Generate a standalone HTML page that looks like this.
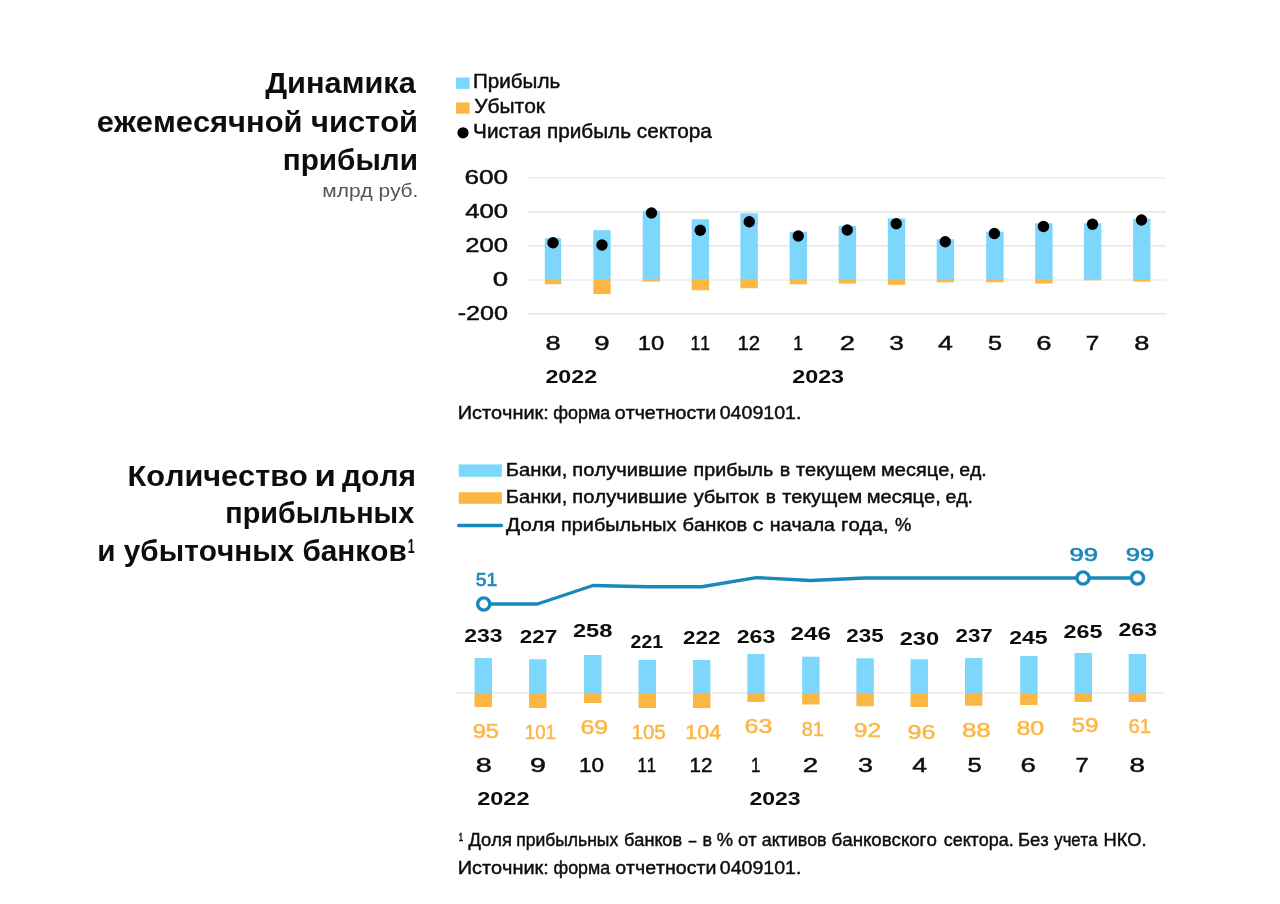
<!DOCTYPE html>
<html lang="ru"><head><meta charset="utf-8"><title>Динамика ежемесячной чистой прибыли</title>
<style>
html,body{margin:0;padding:0;background:#fff;}
body{width:1280px;height:904px;overflow:hidden;}
svg{display:block;font-family:"Liberation Sans",sans-serif;}
text{white-space:pre;font-kerning:none;}
</style></head><body>
<svg width="1280" height="904" viewBox="0 0 1280 904">
<rect width="1280" height="904" fill="#ffffff"/>
<text transform="translate(265.23 93.30) scale(1.0456 1)" font-size="29.4" font-weight="700" fill="#0d0d0d">Динамика</text>
<text transform="translate(96.79 132.10) scale(1.0498 1)" font-size="29.4" font-weight="700" fill="#0d0d0d">ежемесячной чистой</text>
<text transform="translate(282.72 169.80) scale(1.0114 1)" font-size="29.4" font-weight="700" fill="#0d0d0d">прибыли</text>
<text transform="translate(322.35 197.40) scale(1.1744 1)" font-size="17.8" font-weight="400" fill="#555555">млрд руб.</text>
<rect x="456.00" y="77.50" width="13.60" height="11.40" fill="#7dd7fc"/>
<rect x="456.00" y="102.50" width="13.60" height="11.20" fill="#fbb643"/>
<circle cx="463" cy="132.8" r="5.6" fill="#000"/>
<text transform="translate(473.03 87.80) scale(1.0362 1)" font-size="19.9" font-weight="400" fill="#0d0d0d" stroke="#0d0d0d" stroke-width="0.45">Прибыль</text>
<text transform="translate(474.14 113.20) scale(1.0555 1)" font-size="19.9" font-weight="400" fill="#0d0d0d" stroke="#0d0d0d" stroke-width="0.45">Убыток</text>
<text transform="translate(473.08 138.30) scale(1.0428 1)" font-size="19.9" font-weight="400" fill="#0d0d0d" stroke="#0d0d0d" stroke-width="0.45">Чистая прибыль сектора</text>
<line x1="528" x2="1166" y1="178" y2="178" stroke="#e2e2e2" stroke-width="1.2"/>
<line x1="528" x2="1166" y1="211.9" y2="211.9" stroke="#e2e2e2" stroke-width="1.2"/>
<line x1="528" x2="1166" y1="245.9" y2="245.9" stroke="#e2e2e2" stroke-width="1.2"/>
<line x1="528" x2="1166" y1="280" y2="280" stroke="#e2e2e2" stroke-width="1.2"/>
<line x1="528" x2="1166" y1="313.9" y2="313.9" stroke="#e2e2e2" stroke-width="1.2"/>
<text transform="translate(464.42 184.30) scale(1.2936 1)" font-size="20.2" font-weight="400" fill="#0d0d0d" stroke="#0d0d0d" stroke-width="0.45">600</text>
<text transform="translate(465.16 218.20) scale(1.2712 1)" font-size="20.2" font-weight="400" fill="#0d0d0d" stroke="#0d0d0d" stroke-width="0.45">400</text>
<text transform="translate(465.21 252.20) scale(1.2697 1)" font-size="20.2" font-weight="400" fill="#0d0d0d" stroke="#0d0d0d" stroke-width="0.45">200</text>
<text transform="translate(492.67 286.30) scale(1.3722 1)" font-size="20.2" font-weight="400" fill="#0d0d0d" stroke="#0d0d0d" stroke-width="0.45">0</text>
<text transform="translate(457.63 320.20) scale(1.2454 1)" font-size="20.2" font-weight="400" fill="#0d0d0d" stroke="#0d0d0d" stroke-width="0.45">-200</text>
<rect x="544.80" y="238.25" width="16.40" height="41.75" fill="#7dd7fc"/>
<rect x="544.80" y="280.00" width="16.40" height="4.25" fill="#fbb643"/>
<rect x="593.30" y="230.20" width="17.40" height="49.80" fill="#7dd7fc"/>
<rect x="593.30" y="280.00" width="17.40" height="14.10" fill="#fbb643"/>
<rect x="642.70" y="210.75" width="17.40" height="69.25" fill="#7dd7fc"/>
<rect x="642.70" y="280.00" width="17.40" height="1.50" fill="#fbb643"/>
<rect x="691.70" y="219.25" width="17.40" height="60.75" fill="#7dd7fc"/>
<rect x="691.70" y="280.00" width="17.40" height="10.25" fill="#fbb643"/>
<rect x="740.40" y="213.25" width="17.40" height="66.75" fill="#7dd7fc"/>
<rect x="740.40" y="280.00" width="17.40" height="8.25" fill="#fbb643"/>
<rect x="789.70" y="231.75" width="17.40" height="48.25" fill="#7dd7fc"/>
<rect x="789.70" y="280.00" width="17.40" height="4.25" fill="#fbb643"/>
<rect x="838.70" y="226.00" width="17.40" height="54.00" fill="#7dd7fc"/>
<rect x="838.70" y="280.00" width="17.40" height="3.50" fill="#fbb643"/>
<rect x="887.80" y="218.50" width="17.40" height="61.50" fill="#7dd7fc"/>
<rect x="887.80" y="280.00" width="17.40" height="4.75" fill="#fbb643"/>
<rect x="936.70" y="239.25" width="17.40" height="40.75" fill="#7dd7fc"/>
<rect x="936.70" y="280.00" width="17.40" height="2.25" fill="#fbb643"/>
<rect x="986.20" y="231.75" width="17.40" height="48.25" fill="#7dd7fc"/>
<rect x="986.20" y="280.00" width="17.40" height="2.25" fill="#fbb643"/>
<rect x="1035.20" y="223.25" width="17.40" height="56.75" fill="#7dd7fc"/>
<rect x="1035.20" y="280.00" width="17.40" height="3.50" fill="#fbb643"/>
<rect x="1083.90" y="223.25" width="17.40" height="56.75" fill="#7dd7fc"/>
<rect x="1083.90" y="280.00" width="17.40" height="0.30" fill="#fbb643"/>
<rect x="1133.05" y="218.75" width="17.40" height="61.25" fill="#7dd7fc"/>
<rect x="1133.05" y="280.00" width="17.40" height="1.50" fill="#fbb643"/>
<circle cx="553" cy="242.75" r="5.7" fill="#000"/>
<circle cx="602" cy="245" r="5.7" fill="#000"/>
<circle cx="651.5" cy="213" r="5.7" fill="#000"/>
<circle cx="700.25" cy="230.25" r="5.7" fill="#000"/>
<circle cx="749.25" cy="221.75" r="5.7" fill="#000"/>
<circle cx="798.25" cy="236" r="5.7" fill="#000"/>
<circle cx="847.25" cy="230" r="5.7" fill="#000"/>
<circle cx="896.25" cy="223.75" r="5.7" fill="#000"/>
<circle cx="945.25" cy="241.75" r="5.7" fill="#000"/>
<circle cx="994.4" cy="233.5" r="5.7" fill="#000"/>
<circle cx="1043.5" cy="226.5" r="5.7" fill="#000"/>
<circle cx="1092.5" cy="224.25" r="5.7" fill="#000"/>
<circle cx="1141.5" cy="220" r="5.7" fill="#000"/>
<text transform="translate(545.44 349.90) scale(1.3319 1)" font-size="20.4" font-weight="400" fill="#0d0d0d" stroke="#0d0d0d" stroke-width="0.45">8</text>
<text transform="translate(594.33 349.90) scale(1.3531 1)" font-size="20.4" font-weight="400" fill="#0d0d0d" stroke="#0d0d0d" stroke-width="0.45">9</text>
<text transform="translate(637.71 349.90) scale(1.1676 1)" font-size="20.4" font-weight="400" fill="#0d0d0d" stroke="#0d0d0d" stroke-width="0.45">10</text>
<text transform="translate(690.40 349.90) scale(0.8600 1)" font-size="20.4" font-weight="400" fill="#0d0d0d" stroke="#0d0d0d" stroke-width="0.45">11</text>
<text transform="translate(737.55 349.90) scale(0.9945 1)" font-size="20.4" font-weight="400" fill="#0d0d0d" stroke="#0d0d0d" stroke-width="0.45">12</text>
<text transform="translate(793.28 349.90) scale(0.8600 1)" font-size="20.4" font-weight="400" fill="#0d0d0d" stroke="#0d0d0d" stroke-width="0.45">1</text>
<text transform="translate(839.77 349.90) scale(1.3450 1)" font-size="20.4" font-weight="400" fill="#0d0d0d" stroke="#0d0d0d" stroke-width="0.45">2</text>
<text transform="translate(889.25 349.90) scale(1.2924 1)" font-size="20.4" font-weight="400" fill="#0d0d0d" stroke="#0d0d0d" stroke-width="0.45">3</text>
<text transform="translate(938.04 349.90) scale(1.3133 1)" font-size="20.4" font-weight="400" fill="#0d0d0d" stroke="#0d0d0d" stroke-width="0.45">4</text>
<text transform="translate(987.89 349.90) scale(1.2407 1)" font-size="20.4" font-weight="400" fill="#0d0d0d" stroke="#0d0d0d" stroke-width="0.45">5</text>
<text transform="translate(1036.15 349.90) scale(1.3492 1)" font-size="20.4" font-weight="400" fill="#0d0d0d" stroke="#0d0d0d" stroke-width="0.45">6</text>
<text transform="translate(1085.86 349.90) scale(1.1862 1)" font-size="20.4" font-weight="400" fill="#0d0d0d" stroke="#0d0d0d" stroke-width="0.45">7</text>
<text transform="translate(1134.19 349.90) scale(1.3319 1)" font-size="20.4" font-weight="400" fill="#0d0d0d" stroke="#0d0d0d" stroke-width="0.45">8</text>
<text transform="translate(545.44 383.00) scale(1.2240 1)" font-size="19" font-weight="700" fill="#0d0d0d">2022</text>
<text transform="translate(792.19 383.00) scale(1.2279 1)" font-size="19" font-weight="700" fill="#0d0d0d">2023</text>
<text y="419.40" font-size="18.7" font-weight="400" fill="#0d0d0d" stroke="#0d0d0d" stroke-width="0.45"><tspan x="457.67" textLength="91.15" lengthAdjust="spacingAndGlyphs">Источник:</tspan> <tspan x="553.25" textLength="57.05" lengthAdjust="spacingAndGlyphs">форма</tspan> <tspan x="614.78" textLength="101.48" lengthAdjust="spacingAndGlyphs">отчетности</tspan> <tspan x="719.74" textLength="81.65" lengthAdjust="spacingAndGlyphs">0409101.</tspan></text>
<text y="486.20" font-size="29.4" font-weight="700" fill="#0d0d0d"><tspan x="127.45" textLength="180.35" lengthAdjust="spacingAndGlyphs">Количество</tspan> <tspan x="314.58" textLength="21.44" lengthAdjust="spacingAndGlyphs">и</tspan> <tspan x="342.10" textLength="73.80" lengthAdjust="spacingAndGlyphs">доля</tspan></text>
<text transform="translate(225.29 523.10) scale(0.9787 1)" font-size="29.4" font-weight="700" fill="#0d0d0d">прибыльных</text>
<text transform="translate(97.24 560.70) scale(1.0126 1)" font-size="29.4" font-weight="700" fill="#0d0d0d">и убыточных банков</text>
<text transform="translate(407.81 552.50) scale(0.6232 1)" font-size="20" font-weight="700" fill="#0d0d0d">1</text>
<rect x="458.75" y="464.40" width="43.10" height="12.40" fill="#7dd7fc"/>
<rect x="458.75" y="492.20" width="43.10" height="11.60" fill="#fbb643"/>
<line x1="458.7" x2="501.4" y1="525.5" y2="525.5" stroke="#1b88bc" stroke-width="3.6" stroke-linecap="round"/>
<text y="475.90" font-size="18.7" font-weight="400" fill="#0d0d0d" stroke="#0d0d0d" stroke-width="0.45"><tspan x="505.84" textLength="61.48" lengthAdjust="spacingAndGlyphs">Банки,</tspan> <tspan x="572.36" textLength="114.79" lengthAdjust="spacingAndGlyphs">получившие</tspan> <tspan x="693.64" textLength="79.67" lengthAdjust="spacingAndGlyphs">прибыль</tspan> <tspan x="779.88" textLength="10.47" lengthAdjust="spacingAndGlyphs">в</tspan> <tspan x="795.91" textLength="80.47" lengthAdjust="spacingAndGlyphs">текущем</tspan> <tspan x="881.11" textLength="73.78" lengthAdjust="spacingAndGlyphs">месяце,</tspan> <tspan x="959.17" textLength="27.61" lengthAdjust="spacingAndGlyphs">ед.</tspan></text>
<text y="503.30" font-size="18.7" font-weight="400" fill="#0d0d0d" stroke="#0d0d0d" stroke-width="0.45"><tspan x="505.84" textLength="61.48" lengthAdjust="spacingAndGlyphs">Банки,</tspan> <tspan x="572.36" textLength="114.79" lengthAdjust="spacingAndGlyphs">получившие</tspan> <tspan x="693.70" textLength="64.95" lengthAdjust="spacingAndGlyphs">убыток</tspan> <tspan x="765.67" textLength="10.16" lengthAdjust="spacingAndGlyphs">в</tspan> <tspan x="782.16" textLength="79.96" lengthAdjust="spacingAndGlyphs">текущем</tspan> <tspan x="866.71" textLength="74.09" lengthAdjust="spacingAndGlyphs">месяце,</tspan> <tspan x="945.42" textLength="27.61" lengthAdjust="spacingAndGlyphs">ед.</tspan></text>
<text y="530.60" font-size="18.7" font-weight="400" fill="#0d0d0d" stroke="#0d0d0d" stroke-width="0.45"><tspan x="506.10" textLength="49.10" lengthAdjust="spacingAndGlyphs">Доля</tspan> <tspan x="561.13" textLength="115.34" lengthAdjust="spacingAndGlyphs">прибыльных</tspan> <tspan x="682.57" textLength="64.55" lengthAdjust="spacingAndGlyphs">банков</tspan> <tspan x="752.84" textLength="10.73" lengthAdjust="spacingAndGlyphs">с</tspan> <tspan x="769.89" textLength="65.11" lengthAdjust="spacingAndGlyphs">начала</tspan> <tspan x="841.09" textLength="47.64" lengthAdjust="spacingAndGlyphs">года,</tspan> <tspan x="894.95" textLength="16.31" lengthAdjust="spacingAndGlyphs">%</tspan></text>
<line x1="456.2" x2="1165" y1="693" y2="693" stroke="#e2e2e2" stroke-width="1.2"/>
<rect x="474.55" y="658.00" width="17.40" height="35.00" fill="#7dd7fc"/>
<rect x="474.55" y="693.00" width="17.40" height="14.00" fill="#fbb643"/>
<rect x="529.05" y="659.25" width="17.40" height="33.75" fill="#7dd7fc"/>
<rect x="529.05" y="693.00" width="17.40" height="15.00" fill="#fbb643"/>
<rect x="584.05" y="655.00" width="17.40" height="38.00" fill="#7dd7fc"/>
<rect x="584.05" y="693.00" width="17.40" height="10.00" fill="#fbb643"/>
<rect x="638.55" y="660.00" width="17.40" height="33.00" fill="#7dd7fc"/>
<rect x="638.55" y="693.00" width="17.40" height="15.00" fill="#fbb643"/>
<rect x="693.05" y="660.00" width="17.40" height="33.00" fill="#7dd7fc"/>
<rect x="693.05" y="693.00" width="17.40" height="15.00" fill="#fbb643"/>
<rect x="747.30" y="654.00" width="17.40" height="39.00" fill="#7dd7fc"/>
<rect x="747.30" y="693.00" width="17.40" height="9.00" fill="#fbb643"/>
<rect x="802.20" y="656.75" width="17.40" height="36.25" fill="#7dd7fc"/>
<rect x="802.20" y="693.00" width="17.40" height="11.50" fill="#fbb643"/>
<rect x="856.40" y="658.25" width="17.40" height="34.75" fill="#7dd7fc"/>
<rect x="856.40" y="693.00" width="17.40" height="13.25" fill="#fbb643"/>
<rect x="910.55" y="659.25" width="17.40" height="33.75" fill="#7dd7fc"/>
<rect x="910.55" y="693.00" width="17.40" height="14.00" fill="#fbb643"/>
<rect x="965.00" y="658.00" width="17.40" height="35.00" fill="#7dd7fc"/>
<rect x="965.00" y="693.00" width="17.40" height="12.75" fill="#fbb643"/>
<rect x="1020.20" y="656.00" width="17.40" height="37.00" fill="#7dd7fc"/>
<rect x="1020.20" y="693.00" width="17.40" height="12.00" fill="#fbb643"/>
<rect x="1074.55" y="653.00" width="17.40" height="40.00" fill="#7dd7fc"/>
<rect x="1074.55" y="693.00" width="17.40" height="9.00" fill="#fbb643"/>
<rect x="1128.70" y="654.00" width="17.40" height="39.00" fill="#7dd7fc"/>
<rect x="1128.70" y="693.00" width="17.40" height="9.00" fill="#fbb643"/>
<polyline fill="none" stroke="#1b88bc" stroke-width="3.4" stroke-linejoin="round" points="483.75,604 537.5,604 593,585.5 647.25,586.75 701.75,586.75 756.25,577.6 810.5,580.5 865,578 919.25,578 973.7,578 1028.9,578 1083,578 1137.5,578"/>
<circle cx="483.75" cy="604" r="6.1" fill="#fff" stroke="#1b88bc" stroke-width="3.4"/>
<circle cx="1083" cy="578" r="6.1" fill="#fff" stroke="#1b88bc" stroke-width="3.4"/>
<circle cx="1137.5" cy="578" r="6.1" fill="#fff" stroke="#1b88bc" stroke-width="3.4"/>
<text transform="translate(475.73 585.50) scale(1.0488 1)" font-size="18.4" font-weight="400" fill="#1b88bc" stroke="#1b88bc" stroke-width="0.65">51</text>
<text transform="translate(1069.55 560.75) scale(1.3880 1)" font-size="18.4" font-weight="400" fill="#1b88bc" stroke="#1b88bc" stroke-width="0.65">99</text>
<text transform="translate(1125.80 560.75) scale(1.3880 1)" font-size="18.4" font-weight="400" fill="#1b88bc" stroke="#1b88bc" stroke-width="0.65">99</text>
<text transform="translate(464.20 641.65) scale(1.2367 1)" font-size="18.6" font-weight="700" fill="#0d0d0d">233</text>
<text transform="translate(519.72 643.40) scale(1.2090 1)" font-size="18.6" font-weight="700" fill="#0d0d0d">227</text>
<text transform="translate(572.93 637.40) scale(1.2745 1)" font-size="18.6" font-weight="700" fill="#0d0d0d">258</text>
<text transform="translate(630.58 648.40) scale(1.0462 1)" font-size="18.6" font-weight="700" fill="#0d0d0d">221</text>
<text transform="translate(682.97 644.15) scale(1.2060 1)" font-size="18.6" font-weight="700" fill="#0d0d0d">222</text>
<text transform="translate(736.70 642.90) scale(1.2451 1)" font-size="18.6" font-weight="700" fill="#0d0d0d">263</text>
<text transform="translate(790.41 639.65) scale(1.3040 1)" font-size="18.6" font-weight="700" fill="#0d0d0d">246</text>
<text transform="translate(846.22 641.90) scale(1.2052 1)" font-size="18.6" font-weight="700" fill="#0d0d0d">235</text>
<text transform="translate(899.68 645.40) scale(1.2742 1)" font-size="18.6" font-weight="700" fill="#0d0d0d">230</text>
<text transform="translate(955.48 641.90) scale(1.2005 1)" font-size="18.6" font-weight="700" fill="#0d0d0d">237</text>
<text transform="translate(1009.20 644.15) scale(1.2387 1)" font-size="18.6" font-weight="700" fill="#0d0d0d">245</text>
<text transform="translate(1063.44 637.90) scale(1.2554 1)" font-size="18.6" font-weight="700" fill="#0d0d0d">265</text>
<text transform="translate(1118.45 635.90) scale(1.2451 1)" font-size="18.6" font-weight="700" fill="#0d0d0d">263</text>
<text transform="translate(472.64 737.80) scale(1.2089 1)" font-size="19.6" font-weight="400" fill="#fbb84a" stroke="#fbb84a" stroke-width="0.55">95</text>
<text transform="translate(524.83 739.05) scale(0.9504 1)" font-size="19.6" font-weight="400" fill="#fbb84a" stroke="#fbb84a" stroke-width="0.55">101</text>
<text transform="translate(580.49 734.05) scale(1.2703 1)" font-size="19.6" font-weight="400" fill="#fbb84a" stroke="#fbb84a" stroke-width="0.55">69</text>
<text transform="translate(631.43 739.05) scale(1.0531 1)" font-size="19.6" font-weight="400" fill="#fbb84a" stroke="#fbb84a" stroke-width="0.55">105</text>
<text transform="translate(685.37 739.05) scale(1.0935 1)" font-size="19.6" font-weight="400" fill="#fbb84a" stroke="#fbb84a" stroke-width="0.55">104</text>
<text transform="translate(744.48 732.80) scale(1.2785 1)" font-size="19.6" font-weight="400" fill="#fbb84a" stroke="#fbb84a" stroke-width="0.55">63</text>
<text transform="translate(801.63 736.05) scale(1.0254 1)" font-size="19.6" font-weight="400" fill="#fbb84a" stroke="#fbb84a" stroke-width="0.55">81</text>
<text transform="translate(853.85 737.30) scale(1.2565 1)" font-size="19.6" font-weight="400" fill="#fbb84a" stroke="#fbb84a" stroke-width="0.55">92</text>
<text transform="translate(907.57 738.55) scale(1.2861 1)" font-size="19.6" font-weight="400" fill="#fbb84a" stroke="#fbb84a" stroke-width="0.55">96</text>
<text transform="translate(961.88 736.55) scale(1.3186 1)" font-size="19.6" font-weight="400" fill="#fbb84a" stroke="#fbb84a" stroke-width="0.55">88</text>
<text transform="translate(1016.41 734.80) scale(1.2758 1)" font-size="19.6" font-weight="400" fill="#fbb84a" stroke="#fbb84a" stroke-width="0.55">80</text>
<text transform="translate(1071.52 732.30) scale(1.2445 1)" font-size="19.6" font-weight="400" fill="#fbb84a" stroke="#fbb84a" stroke-width="0.55">59</text>
<text transform="translate(1128.47 732.80) scale(1.0328 1)" font-size="19.6" font-weight="400" fill="#fbb84a" stroke="#fbb84a" stroke-width="0.55">61</text>
<text transform="translate(475.85 771.80) scale(1.4754 1)" font-size="19.5" font-weight="400" fill="#0d0d0d" stroke="#0d0d0d" stroke-width="0.45">8</text>
<text transform="translate(530.06 771.80) scale(1.4655 1)" font-size="19.5" font-weight="400" fill="#0d0d0d" stroke="#0d0d0d" stroke-width="0.45">9</text>
<text transform="translate(578.88 771.80) scale(1.1572 1)" font-size="19.5" font-weight="400" fill="#0d0d0d" stroke="#0d0d0d" stroke-width="0.45">10</text>
<text transform="translate(637.54 771.80) scale(0.8600 1)" font-size="19.5" font-weight="400" fill="#0d0d0d" stroke="#0d0d0d" stroke-width="0.45">11</text>
<text transform="translate(689.53 771.80) scale(1.0560 1)" font-size="19.5" font-weight="400" fill="#0d0d0d" stroke="#0d0d0d" stroke-width="0.45">12</text>
<text transform="translate(751.06 771.80) scale(0.8600 1)" font-size="19.5" font-weight="400" fill="#0d0d0d" stroke="#0d0d0d" stroke-width="0.45">1</text>
<text transform="translate(802.71 771.80) scale(1.4184 1)" font-size="19.5" font-weight="400" fill="#0d0d0d" stroke="#0d0d0d" stroke-width="0.45">2</text>
<text transform="translate(857.88 771.80) scale(1.3737 1)" font-size="19.5" font-weight="400" fill="#0d0d0d" stroke="#0d0d0d" stroke-width="0.45">3</text>
<text transform="translate(912.29 771.80) scale(1.3739 1)" font-size="19.5" font-weight="400" fill="#0d0d0d" stroke="#0d0d0d" stroke-width="0.45">4</text>
<text transform="translate(967.58 771.80) scale(1.3088 1)" font-size="19.5" font-weight="400" fill="#0d0d0d" stroke="#0d0d0d" stroke-width="0.45">5</text>
<text transform="translate(1020.60 771.80) scale(1.4115 1)" font-size="19.5" font-weight="400" fill="#0d0d0d" stroke="#0d0d0d" stroke-width="0.45">6</text>
<text transform="translate(1075.59 771.80) scale(1.2071 1)" font-size="19.5" font-weight="400" fill="#0d0d0d" stroke="#0d0d0d" stroke-width="0.45">7</text>
<text transform="translate(1129.60 771.80) scale(1.4207 1)" font-size="19.5" font-weight="400" fill="#0d0d0d" stroke="#0d0d0d" stroke-width="0.45">8</text>
<text transform="translate(477.18 805.20) scale(1.2387 1)" font-size="19" font-weight="700" fill="#0d0d0d">2022</text>
<text transform="translate(749.40 805.20) scale(1.2121 1)" font-size="19" font-weight="700" fill="#0d0d0d">2023</text>
<text y="845.50" font-size="18.7" font-weight="400" fill="#0d0d0d" stroke="#0d0d0d" stroke-width="0.45"><tspan x="458.80" textLength="4.29" lengthAdjust="spacingAndGlyphs">¹</tspan> <tspan x="468.62" textLength="43.41" lengthAdjust="spacingAndGlyphs">Доля</tspan> <tspan x="516.29" textLength="101.90" lengthAdjust="spacingAndGlyphs">прибыльных</tspan> <tspan x="623.94" textLength="58.10" lengthAdjust="spacingAndGlyphs">банков</tspan> <tspan x="688.75" textLength="7.51" lengthAdjust="spacingAndGlyphs">–</tspan> <tspan x="702.51" textLength="9.52" lengthAdjust="spacingAndGlyphs">в</tspan> <tspan x="716.85" textLength="16.31" lengthAdjust="spacingAndGlyphs">%</tspan> <tspan x="737.98" textLength="18.58" lengthAdjust="spacingAndGlyphs">от</tspan> <tspan x="761.74" textLength="64.84" lengthAdjust="spacingAndGlyphs">активов</tspan> <tspan x="831.50" textLength="105.39" lengthAdjust="spacingAndGlyphs">банковского</tspan> <tspan x="943.74" textLength="69.90" lengthAdjust="spacingAndGlyphs">сектора.</tspan> <tspan x="1017.88" textLength="30.91" lengthAdjust="spacingAndGlyphs">Без</tspan> <tspan x="1054.36" textLength="43.14" lengthAdjust="spacingAndGlyphs">учета</tspan> <tspan x="1103.50" textLength="43.17" lengthAdjust="spacingAndGlyphs">НКО.</tspan></text>
<text y="873.70" font-size="18.7" font-weight="400" fill="#0d0d0d" stroke="#0d0d0d" stroke-width="0.45"><tspan x="457.67" textLength="91.15" lengthAdjust="spacingAndGlyphs">Источник:</tspan> <tspan x="553.55" textLength="56.55" lengthAdjust="spacingAndGlyphs">форма</tspan> <tspan x="615.18" textLength="101.18" lengthAdjust="spacingAndGlyphs">отчетности</tspan> <tspan x="719.84" textLength="81.55" lengthAdjust="spacingAndGlyphs">0409101.</tspan></text>
</svg>
</body></html>
